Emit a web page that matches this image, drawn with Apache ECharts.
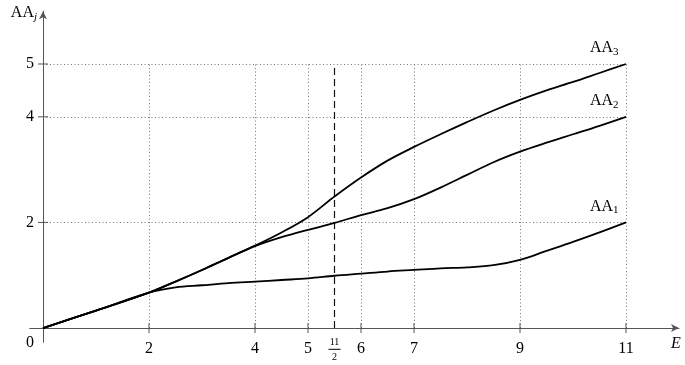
<!DOCTYPE html>
<html><head><meta charset="utf-8">
<script src="https://cdn.jsdelivr.net/npm/echarts@6/dist/echarts.min.js"></script>
<style>html,body{margin:0;padding:0;background:#fff}#c{width:685px;height:365px}</style>
</head><body><div id="c"></div>
<script>
const xs  = [0,1,2,2.5,3,3.5,4,4.5,5,5.5,6,6.5,7,7.5,8,8.5,9,9.5,10,10.5,11];
const AA1 = [0,0.33,0.67,0.77,0.81,0.85,0.88,0.91,0.94,0.99,1.03,1.07,1.10,1.13,1.15,1.19,1.29,1.46,1.63,1.81,2.0];
const AA2 = [0,0.33,0.67,0.88,1.10,1.33,1.55,1.72,1.86,1.99,2.14,2.27,2.44,2.66,2.90,3.14,3.34,3.51,3.67,3.83,4.0];
const AA3 = [0,0.33,0.67,0.88,1.10,1.33,1.56,1.81,2.10,2.49,2.85,3.17,3.43,3.67,3.90,4.12,4.32,4.50,4.66,4.83,5.0];
const seriesNames = ['1','2','3'];
const xTicks = [2,4,5,6,7,9,11];
const yTicks = [2,4,5];
const xLabels = [2,4,5,5.5,6,7,9,11];
const yLabels = [0,2,4,5];
const dashedX = 5.5;
const guideTop = 5;
const guideRight = 11;

const font = '"Liberation Serif", "DejaVu Serif", serif';
const chart = echarts.init(document.getElementById('c'));

function curve(vals, sub){
  const data = xs.map((x,i)=>[x, vals[i]]);
  return {type:'line', data, smooth:0.35, symbol:'none', silent:true,
    lineStyle:{color:'#000', width:1.8}, z:5,
    endLabel:{show:true, offset:[-44,-16], color:'#000',
      formatter:'{a|AA}{s|'+sub+'}',
      rich:{a:{fontFamily:font,fontSize:16,color:'#000'}, s:{fontFamily:font,fontSize:11,color:'#000',padding:[8,0,0,0]}}}};
}

const guideData = [];
xTicks.forEach(v=>guideData.push([[v,0],[v,guideTop]]));
yTicks.forEach(v=>guideData.push([[0,v],[guideRight,v]]));

const ticksData = [];
xTicks.forEach(v=>ticksData.push(['x',v]));
yTicks.forEach(v=>ticksData.push(['y',v]));

chart.setOption({
  animation:false,
  grid:{left:29.75, top:11.2, width:649.25, height:331.1, outerBoundsMode:'none', containLabel:false},
  xAxis:{type:'value', min:-0.25, max:12, splitLine:{show:false},
    axisLine:{onZero:true, lineStyle:{color:'#555', width:1}, symbol:['none','arrow'], symbolSize:[6,8]},
    axisTick:{show:false},
    axisLabel:{customValues:xLabels, margin:-5, color:'#000', fontFamily:font, fontSize:16,
      formatter:v=> v===dashedX ? '{n|11}\n{b| }\n{d|2}' : '{t|'+v+'}',
      rich:{t:{fontFamily:font,fontSize:16,lineHeight:16,color:'#000',padding:[6,0,0,0]},
            n:{fontFamily:font,fontSize:10,lineHeight:10,color:'#000'},
            b:{fontFamily:font,fontSize:2,width:12,height:1,lineHeight:4,backgroundColor:'#000',color:'#000'},
            d:{fontFamily:font,fontSize:10,lineHeight:12,color:'#000'}}},
    name:'E', nameLocation:'end', nameGap:-3,
    nameTextStyle:{fontFamily:font, fontStyle:'italic', fontSize:16, color:'#000', align:'center', verticalAlign:'top', padding:[8,0,0,0]}},
  yAxis:{type:'value', min:-0.27, max:6, splitLine:{show:false},
    axisLine:{onZero:true, lineStyle:{color:'#555', width:1}, symbol:['none','arrow'], symbolSize:[6,8]},
    axisTick:{show:false},
    axisLabel:{customValues:yLabels, margin:-4.25, color:'#000', fontFamily:font, fontSize:16,
      formatter:v=> v===0 ? '{o|0}' : String(v),
      rich:{o:{fontFamily:font,fontSize:16,color:'#000',padding:[30,0,0,0]}}},
    name:'{a|AA}{s|j}', nameLocation:'end', nameGap:-2,
    nameTextStyle:{align:'right', verticalAlign:'middle', padding:[0,6,0,0],
      rich:{a:{fontFamily:font,fontSize:16,color:'#000'}, s:{fontFamily:font,fontSize:11,fontStyle:'italic',color:'#000',padding:[8,0,0,0]}}}},
  series:[
    {type:'lines', coordinateSystem:'cartesian2d', silent:true, z:1,
      data:guideData.map(c=>({coords:c})),
      lineStyle:{color:'#777', width:1, opacity:1, type:[1,2.5]}},
    {type:'lines', coordinateSystem:'cartesian2d', silent:true, z:2,
      data:[{coords:[[dashedX,0],[dashedX,guideTop]]}],
      lineStyle:{color:'#111', width:1.2, opacity:1, type:[7,4]}},
    {type:'custom', silent:true, z:3, data:ticksData,
      renderItem:(p,api)=>{
        const item = ticksData[p.dataIndex];
        const pt = item[0]==='x' ? api.coord([item[1],0]) : api.coord([0,item[1]]);
        const shape = item[0]==='x' ? {x1:pt[0],y1:pt[1]-5,x2:pt[0],y2:pt[1]+5} : {x1:pt[0]-5,y1:pt[1],x2:pt[0]+5,y2:pt[1]};
        return {type:'line', shape, style:{stroke:'#555', lineWidth:1}};
      }},
    curve(AA1, seriesNames[0]),
    curve(AA2, seriesNames[1]),
    curve(AA3, seriesNames[2])
  ]
});
</script></body></html>
